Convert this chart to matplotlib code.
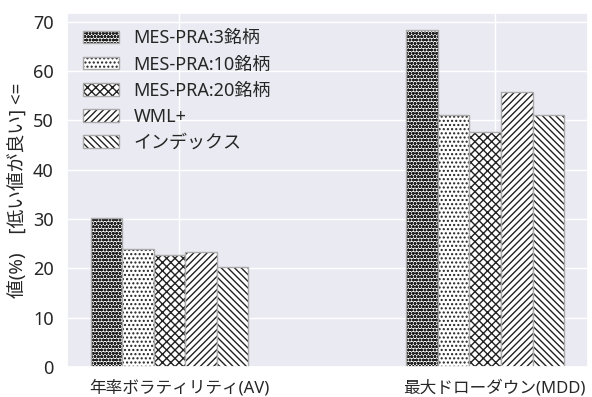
import numpy as np
import matplotlib.pyplot as plt
import seaborn as sns

sns.set_theme(style="darkgrid")
plt.rcParams["font.family"] = ["Noto Sans", "Noto Sans CJK JP"]
plt.rcParams["hatch.linewidth"] = 1.0

metrics = ["年率ボラティリティ(AV)", "最大ドローダウン(MDD)"]
strategies = ["MES-PRA:3銘柄", "MES-PRA:10銘柄", "MES-PRA:20銘柄", "WML+", "インデックス"]
values = {
    "MES-PRA:3銘柄": [30.2, 68.3],
    "MES-PRA:10銘柄": [23.8, 51.0],
    "MES-PRA:20銘柄": [22.6, 47.6],
    "WML+": [23.3, 55.7],
    "インデックス": [20.2, 51.0],
}
hatches = ["ooooo", "....", "xxxx", "/////", "\\\\\\\\\\"]

fig, ax = plt.subplots(figsize=(5.92, 3.97), dpi=100)
fig.subplots_adjust(left=0.113, right=0.993, bottom=0.076, top=0.967)

x = np.arange(len(metrics))
width = 0.1
handles = []
for i, (name, h) in enumerate(zip(strategies, hatches)):
    pos = x - 0.28 + i * width
    fill = ax.bar(pos, values[name], width, align="edge", color="white",
                  edgecolor="#222222", linewidth=0, hatch=h)
    edge = ax.bar(pos, values[name], width, align="edge", fill=False,
                  edgecolor="#aaaaaa", linewidth=1.0)
    handles.append((fill, edge))

ax.set_xticks(x)
ax.set_xticklabels(metrics, fontsize=12)
ax.tick_params(axis="y", labelsize=13)
ax.set_ylabel("値(%)　[低い値が良い] <=", fontsize=13.5)
ax.legend(handles, strategies, loc="upper left", frameon=False, fontsize=13,
          handlelength=2.0, labelspacing=0.45)

fig.savefig("out.png")
